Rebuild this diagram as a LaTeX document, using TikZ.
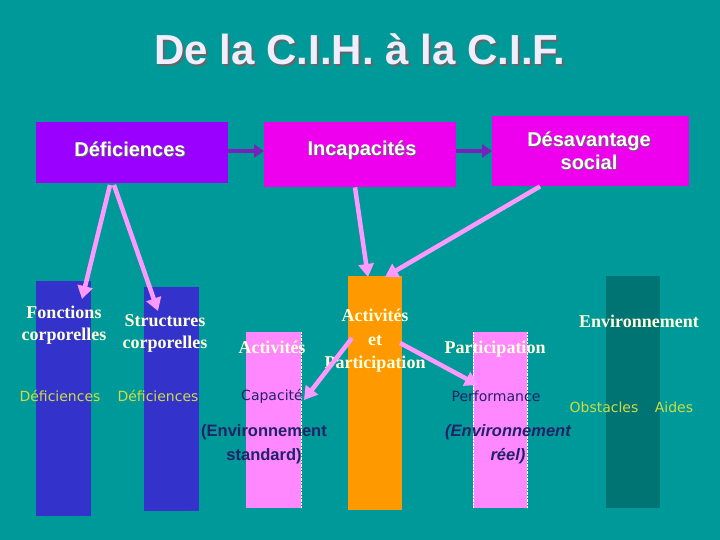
\documentclass[tikz,border=0pt]{standalone}
\usepackage{fontspec}
\setmainfont{Liberation Serif}
\setsansfont{DejaVu Sans}
\newfontfamily\tah{Liberation Sans}
\usetikzlibrary{arrows.meta}
\definecolor{bg}{HTML}{009999}
\definecolor{bleu}{HTML}{3333CC}
\definecolor{rose}{HTML}{FF88FF}
\definecolor{orng}{HTML}{FF9900}
\definecolor{sombre}{HTML}{007373}
\definecolor{violet}{HTML}{9900FF}
\definecolor{mag}{HTML}{EE00EE}
\definecolor{flec}{HTML}{FF99FF}
\definecolor{pflec}{HTML}{7722BB}
\definecolor{creme}{HTML}{FFFFDD}
\definecolor{jaune}{HTML}{CCDD44}
\definecolor{navy}{HTML}{222266}
\definecolor{titc}{HTML}{EEEEFF}
\newcommand{\shad}[2]{\leavevmode\rlap{\hspace{#1}\raisebox{-#1}{\color{black!60}#2}}#2}
\tikzset{
  bar/.style={inner sep=0pt, anchor=north west},
  topbox/.style={inner sep=0pt, anchor=north west},
  btxt/.style={text=white, font=\tah\bfseries\fontsize{20}{23}\selectfont, align=center},
  lab/.style={text=creme, font=\bfseries\fontsize{18}{22}\selectfont, align=center, inner sep=0pt},
  def/.style={text=jaune, font=\sffamily\fontsize{14}{16}\selectfont, inner sep=0pt},
  dk/.style={text=navy, font=\sffamily\fontsize{14}{16}\selectfont, inner sep=0pt},
  env/.style={text=navy, font=\tah\bfseries\fontsize{16.5}{24}\selectfont, align=center, inner sep=0pt},
  parr/.style={draw=flec, line width=4.5pt, -{Triangle[length=13pt,width=15pt]}},
  varr/.style={draw=pflec, line width=4pt, -{Triangle[length=10pt,width=13pt]}}
}
\begin{document}
\begin{tikzpicture}[x=1pt,y=-1pt]
\fill[bg] (0,0) rectangle (720,540);
\useasboundingbox (0,0) rectangle (720,540);
\node[text=titc, font=\tah\bfseries\fontsize{42}{44}\selectfont] (title) at (360,50) {\shad{2pt}{De la C.I.H. à la C.I.F.}};
% bars
\node[bar, fill=bleu, minimum width=55pt, minimum height=235pt] (b1) at (36,281) {};
\node[bar, fill=bleu, minimum width=55pt, minimum height=224pt] (b2) at (144,287) {};
\node[bar, fill=rose, minimum width=55pt, minimum height=176pt] (p1) at (246,332) {};
\draw[white, densely dotted] (p1.north east) -- (p1.south east);
\node[bar, fill=orng, minimum width=54pt, minimum height=234pt] (o) at (348,276) {};
\node[bar, fill=rose, minimum width=54pt, minimum height=176pt] (p2) at (473,332) {};
\draw[white, densely dotted] (p2.north east) -- (p2.south east) (p2.north west) -- (p2.south west);
\node[bar, fill=sombre, minimum width=54pt, minimum height=232pt] (e) at (606,276) {};
% top boxes
\node[topbox, fill=violet, minimum width=192pt, minimum height=61pt] (d) at (36,122) {};
\node[btxt] (dt) at (130,150) {\shad{1pt}{Déficiences}};
\node[topbox, fill=mag, minimum width=192pt, minimum height=65pt] (i) at (264,122) {};
\node[btxt] (it) at (362,151) {\shad{1pt}{Incapacités}};
\node[topbox, fill=mag, minimum width=197pt, minimum height=70pt] (s) at (492,116) {};
\node[btxt] (st) at (589,151) {\shad{1pt}{Désavantage}\\\shad{1pt}{social}};
% purple arrows
\draw[varr] (d.east |- 0,151) -- (i.west |- 0,151);
\draw[varr] (i.east |- 0,151) -- (s.west |- 0,151);
% labels
\node[lab] (l1) at (64,325) {Fonctions\\corporelles};
\node[lab] (l2) at (165,333) {Structures\\corporelles};
\node[lab] (l3) at (272,347) {Activités};
\node[lab, font=\bfseries\fontsize{18}{23.5}\selectfont] (l4) at (375,341) {Activités\\et\\Participation};
\node[lab] (l5) at (495,349) {Participation};
\node[lab] (l6) at (639,321) {Environnement};
\node[def] (d1) at (60,396) {Déficiences};
\node[def] (d2) at (158,396) {Déficiences};
\node[dk] (c1) at (272,396) {Capacité};
\node[dk] (c2) at (496,396) {Performance};
\node[def] (ob) at (604,407) {Obstacles};
\node[def] (ai) at (674,407) {Aides};
\node[env] (e1) at (264,444) {(Environnement\\standard)};
\node[env, font=\tah\bfseries\itshape\fontsize{16.5}{24}\selectfont] (e2) at (508,444) {(Environnement\\réel)};
% pink arrows
\coordinate (a1) at (110,185);
\coordinate (a2) at (114,185);
\coordinate (t1) at (82,299);
\coordinate (t2) at (158,311);
\draw[parr] (a1) -- (t1);
\draw[parr] (a2) -- (t2);
\coordinate (t3) at (368,277);
\coordinate (t4) at (385,277);
\draw[parr] (i.south -| 355,0) -- (t3);
\draw[parr] (s.south -| 540,0) -- (t4);
\coordinate (a5) at (352,338);
\coordinate (t5) at (304,400);
\draw[parr] (a5) -- (t5);
\coordinate (a6) at (400,343);
\coordinate (t6) at (478,385);
\draw[parr] (a6) -- (t6);
\end{tikzpicture}
\end{document}
